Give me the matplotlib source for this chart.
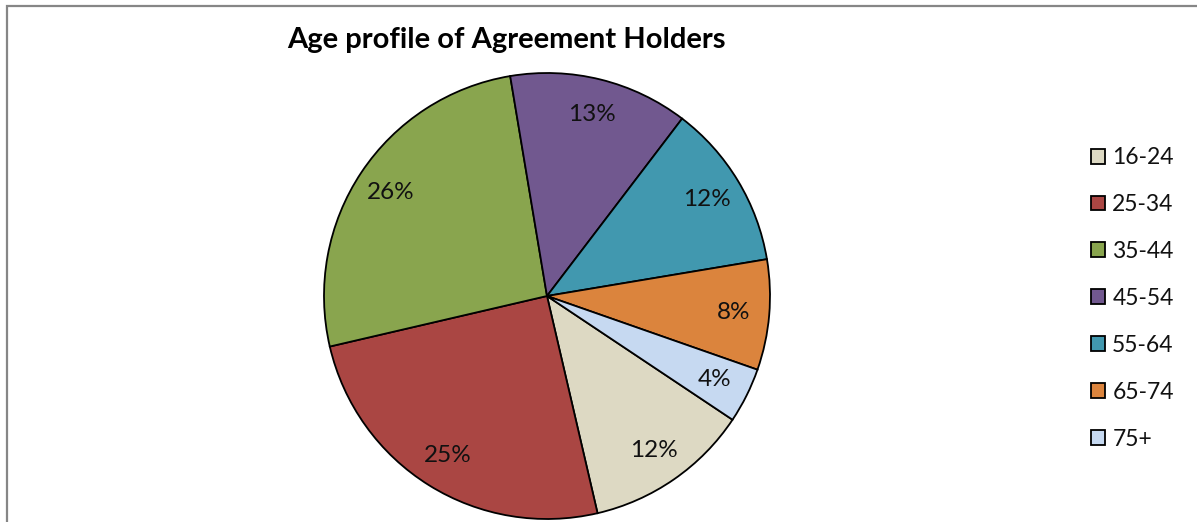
import matplotlib
matplotlib.use("Agg")
from matplotlib import pyplot as plt

plt.rcParams['font.family'] = ['Lato', 'DejaVu Sans']

age_groups = ['16-24', '25-34', '35-44', '45-54', '55-64', '65-74', '75+']
shares = [12, 25, 26, 13, 12, 8, 4]
colors = ['#DDD9C3', '#AA4643', '#89A54E', '#71588F', '#4198AF', '#DB843D', '#C6D9F1']

W, H = 1197, 522
fig = plt.figure(figsize=(W / 100, H / 100), dpi=100)
ax = fig.add_axes([0, 0, 1, 1])

# chart frame (left and top edges visible)
ax.plot([6.5, 6.5, W], [0, H - 5.5, H - 5.5], color='#868686', lw=1.6,
        solid_joinstyle='miter')

cx, cy, r = 547, H - 296, 223
wedges, texts, autotexts = ax.pie(
    shares, colors=colors, startangle=-33.7, counterclock=False,
    center=(cx, cy), radius=r, frame=True,
    autopct='%d%%', pctdistance=0.84,
    wedgeprops=dict(edgecolor='black', linewidth=1.3),
    textprops=dict(fontsize=17.5, color='#111111'))
ax.set_xlim(0, W)
ax.set_ylim(0, H)
ax.set_aspect('equal')
ax.axis('off')

ax.text(506, H - 40, 'Age profile of Agreement Holders', ha='center', va='center',
        fontsize=21, fontweight='bold')

fig.legend(wedges, age_groups, loc='upper left', bbox_to_anchor=(1082 / W, 1 - 138 / H),
           frameon=False, fontsize=16.5, handlelength=0.62, handleheight=0.62,
           handletextpad=0.3, labelspacing=1.13, borderaxespad=0,
           labelcolor='#111111')

fig.savefig('out.png', dpi=100)
